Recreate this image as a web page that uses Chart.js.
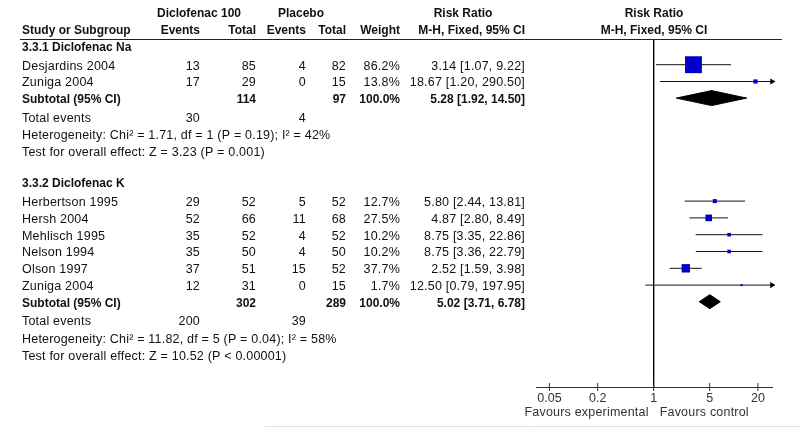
<!DOCTYPE html>
<html>
<head>
<meta charset="utf-8">
<title>Forest plot - Diclofenac 100 vs Placebo</title>
<script src="https://cdn.jsdelivr.net/npm/chart.js@4/dist/chart.umd.min.js"></script>
<style>
    body { margin: 0; background: #fff; }
    #wrap { position: relative; width: 800px; height: 427px; }
</style>
</head>
<body>
<div id="wrap"><canvas id="forestChart"></canvas></div>
<script>
// data
const groupLabels = ["3.3.1 Diclofenac Na", "3.3.2 Diclofenac K"];
const studyNames = ["Desjardins 2004", "Zuniga 2004", "Herbertson 1995", "Hersh 2004", "Mehlisch 1995", "Nelson 1994", "Olson 1997", "Zuniga 2004"];
const studyGroup = [0, 0, 1, 1, 1, 1, 1, 1];
const expEvents = [13, 17, 29, 52, 35, 35, 37, 12];
const expTotal = [85, 29, 52, 66, 52, 50, 51, 31];
const ctlEvents = [4, 0, 5, 11, 4, 4, 15, 0];
const ctlTotal = [82, 15, 52, 68, 52, 50, 52, 15];
const weights = [86.2, 13.8, 12.7, 27.5, 10.2, 10.2, 37.7, 1.7];
const riskRatio = [3.14, 18.67, 5.80, 4.87, 8.75, 8.75, 2.52, 12.50];
const ciLow = [1.07, 1.20, 2.44, 2.80, 3.35, 3.36, 1.59, 0.79];
const ciHigh = [9.22, 290.50, 13.81, 8.49, 22.86, 22.79, 3.98, 197.95];

const subExpTotal = [114, 302];
const subCtlTotal = [97, 289];
const subRatio = [5.28, 5.02];
const subLow = [1.92, 3.71];
const subHigh = [14.50, 6.78];
const totalExpEvents = [30, 200];
const totalCtlEvents = [4, 39];
const heterogeneity = [
    "Heterogeneity: Chi\u00b2 = 1.71, df = 1 (P = 0.19); I\u00b2 = 42%",
    "Heterogeneity: Chi\u00b2 = 11.82, df = 5 (P = 0.04); I\u00b2 = 58%"
];
const overallEffect = [
    "Test for overall effect: Z = 3.23 (P = 0.001)",
    "Test for overall effect: Z = 10.52 (P < 0.00001)"
];

const xTicks = [0.05, 0.2, 1, 5, 20];
const xMin = 0.034;
const xMax = 30;

// layout of the table rows (offset in px below the header rule)
const STEP = { head: 18.5, study: 16.8, sub: 16.6, total: 18.5, het: 17.5, test: 17, gap: 31.5 };
const FONT = "Liberation Sans, Arial, sans-serif";
const BLUE = "#0000c8";

function buildRows() {
    let rows = [];
    let y = 7.2;
    groupLabels.forEach((label, g) => {
        if (g > 0) y += STEP.gap;
        rows.push({ kind: "head", group: g, y: y });
        y += STEP.head;
        let first = true;
        studyNames.forEach((name, i) => {
            if (studyGroup[i] !== g) return;
            if (!first) y += STEP.study;
            first = false;
            rows.push({ kind: "study", group: g, idx: i, y: y });
        });
        y += STEP.sub;
        rows.push({ kind: "sub", group: g, y: y });
        y += STEP.total;
        rows.push({ kind: "total", group: g, y: y });
        y += STEP.het;
        rows.push({ kind: "het", group: g, y: y });
        y += STEP.test;
        rows.push({ kind: "test", group: g, y: y });
    });
    return rows;
}

const rows = buildRows();

function ciText(est, lo, hi) {
    return est.toFixed(2) + " [" + lo.toFixed(2) + ", " + hi.toFixed(2) + "]";
}

// square side grows with weight
function squareRadius(w) {
    return (1.8 + 0.175 * w) / Math.SQRT2;
}

function buildDatasets() {
    let sets = [];
    let bottom = 348;

    // line of no effect
    sets.push({
        data: [{ x: 1, y: 0 }, { x: 1, y: bottom }],
        showLine: true, borderColor: "#000", borderWidth: 1, pointRadius: 0, order: 3
    });

    let squares = [];
    let arrows = [];
    rows.filter(r => r.kind === "study").forEach(r => {
        let i = r.idx;
        sets.push({
            data: [{ x: Math.max(ciLow[i], xMin), y: r.y }, { x: Math.min(ciHigh[i], xMax), y: r.y }],
            showLine: true, borderColor: "#111", borderWidth: 1, pointRadius: 0, order: 2
        });
        squares.push({ x: riskRatio[i], y: r.y, w: weights[i] });
        if (ciHigh[i] > xMax) arrows.push({ x: xMax, y: r.y });
    });

    sets.push({
        data: squares,
        pointStyle: "rect",
        pointRadius: squares.map(p => squareRadius(p.w)),
        backgroundColor: BLUE,
        borderWidth: 0,
        clip: false,
        order: 0
    });

    sets.push({
        data: arrows,
        pointStyle: "triangle",
        rotation: 90,
        pointRadius: 3.5,
        backgroundColor: "#000",
        borderWidth: 0,
        clip: false,
        order: 0
    });

    // subtotal diamonds
    rows.filter(r => r.kind === "sub").forEach(r => {
        let g = r.group;
        let h = g === 0 ? 7.5 : 7;
        sets.push({
            data: [
                { x: subLow[g], y: r.y },
                { x: subRatio[g], y: r.y - h },
                { x: subHigh[g], y: r.y },
                { x: subRatio[g], y: r.y + h },
                { x: subLow[g], y: r.y }
            ],
            showLine: true, fill: "shape", backgroundColor: "#000",
            borderColor: "#000", borderWidth: 1, pointRadius: 0, tension: 0, order: 1
        });
    });

    // tick marks crossing the axis line
    sets.push({
        data: xTicks.map(v => ({ x: v, y: bottom })),
        pointStyle: "line",
        rotation: 90,
        pointRadius: 4,
        borderColor: "#333",
        borderWidth: 1,
        clip: false,
        order: 1
    });

    return sets;
}

// draws the table text to the left of the plot
const tablePlugin = {
    id: "forestTable",
    afterDraw(chart) {
        const ctx = chart.ctx;
        const yScale = chart.scales.y;
        const xScale = chart.scales.x;
        const dy = 1.5;
        const col = { name: 22, expEv: 200, expTot: 256, ctlEv: 306, ctlTot: 346, weight: 400, rr: 525 };

        function txt(s, x, y, align, bold) {
            if (bold) {
                ctx.font = "bold 12px " + FONT;
                ctx.letterSpacing = "0px";
            } else {
                ctx.font = "12.5px " + FONT;
                ctx.letterSpacing = "0.2px";
            }
            ctx.textAlign = align;
            ctx.fillText(s, x, y);
        }

        ctx.save();
        ctx.fillStyle = "#111";
        ctx.textBaseline = "middle";

        const mid = (chart.chartArea.left + chart.chartArea.right) / 2;

        // header
        txt("Diclofenac 100", 199, 13.5, "center", true);
        txt("Placebo", 301, 13.5, "center", true);
        txt("Risk Ratio", 463, 13.5, "center", true);
        txt("Risk Ratio", mid, 13.5, "center", true);
        txt("Study or Subgroup", col.name, 31, "left", true);
        txt("Events", col.expEv, 31, "right", true);
        txt("Total", col.expTot, 31, "right", true);
        txt("Events", col.ctlEv, 31, "right", true);
        txt("Total", col.ctlTot, 31, "right", true);
        txt("Weight", col.weight, 31, "right", true);
        txt("M-H, Fixed, 95% CI", col.rr, 31, "right", true);
        txt("M-H, Fixed, 95% CI", mid, 31, "center", true);

        ctx.strokeStyle = "#222";
        ctx.lineWidth = 1;
        ctx.beginPath();
        ctx.moveTo(20, 39.5);
        ctx.lineTo(782, 39.5);
        ctx.stroke();

        rows.forEach(r => {
            const y = yScale.getPixelForValue(r.y) + dy;
            const g = r.group;
            if (r.kind === "head") {
                txt(groupLabels[g], col.name, y, "left", true);
            } else if (r.kind === "study") {
                const i = r.idx;
                txt(studyNames[i], col.name, y, "left", false);
                txt(String(expEvents[i]), col.expEv, y, "right", false);
                txt(String(expTotal[i]), col.expTot, y, "right", false);
                txt(String(ctlEvents[i]), col.ctlEv, y, "right", false);
                txt(String(ctlTotal[i]), col.ctlTot, y, "right", false);
                txt(weights[i].toFixed(1) + "%", col.weight, y, "right", false);
                txt(ciText(riskRatio[i], ciLow[i], ciHigh[i]), col.rr, y, "right", false);
            } else if (r.kind === "sub") {
                txt("Subtotal (95% CI)", col.name, y, "left", true);
                txt(String(subExpTotal[g]), col.expTot, y, "right", true);
                txt(String(subCtlTotal[g]), col.ctlTot, y, "right", true);
                txt("100.0%", col.weight, y, "right", true);
                txt(ciText(subRatio[g], subLow[g], subHigh[g]), col.rr, y, "right", true);
            } else if (r.kind === "total") {
                txt("Total events", col.name, y, "left", false);
                txt(String(totalExpEvents[g]), col.expEv, y, "right", false);
                txt(String(totalCtlEvents[g]), col.ctlEv, y, "right", false);
            } else if (r.kind === "het") {
                txt(heterogeneity[g], col.name, y, "left", false);
            } else if (r.kind === "test") {
                txt(overallEffect[g], col.name, y, "left", false);
            }
        });

        // favours labels under the axis
        const one = xScale.getPixelForValue(1);
        ctx.fillStyle = "#333";
        txt("Favours experimental", one - 5, 413, "right", false);
        txt("Favours control", one + 6, 413, "left", false);

        // faint rule at the very bottom
        ctx.strokeStyle = "#e2e2e2";
        ctx.letterSpacing = "0px";
        ctx.beginPath();
        ctx.moveTo(265, 426.5);
        ctx.lineTo(800, 426.5);
        ctx.stroke();

        ctx.restore();
    }
};

document.addEventListener("DOMContentLoaded", function () {
    const ctx = document.getElementById("forestChart").getContext("2d");

    new Chart(ctx, {
        type: "scatter",
        data: { datasets: buildDatasets() },
        options: {
            responsive: true,
            maintainAspectRatio: false,
            animation: false,
            events: [],
            layout: { padding: { left: 536, right: 28, top: 39, bottom: 14 } },
            plugins: {
                legend: { display: false },
                tooltip: { enabled: false }
            },
            scales: {
                x: {
                    type: "logarithmic",
                    min: xMin,
                    max: xMax,
                    afterBuildTicks: axis => { axis.ticks = xTicks.map(v => ({ value: v })); },
                    afterFit: axis => { axis.height = 26; },
                    grid: { display: false, drawTicks: false },
                    border: { display: true, color: "#333", width: 1 },
                    ticks: {
                        autoSkip: false,
                        maxRotation: 0,
                        padding: 4,
                        color: "#333",
                        font: { family: FONT, size: 12.5 },
                        callback: v => String(v)
                    }
                },
                y: {
                    display: false,
                    reverse: true,
                    min: 0,
                    max: 348
                }
            }
        },
        plugins: [tablePlugin]
    });
});
</script>
</body>
</html>
